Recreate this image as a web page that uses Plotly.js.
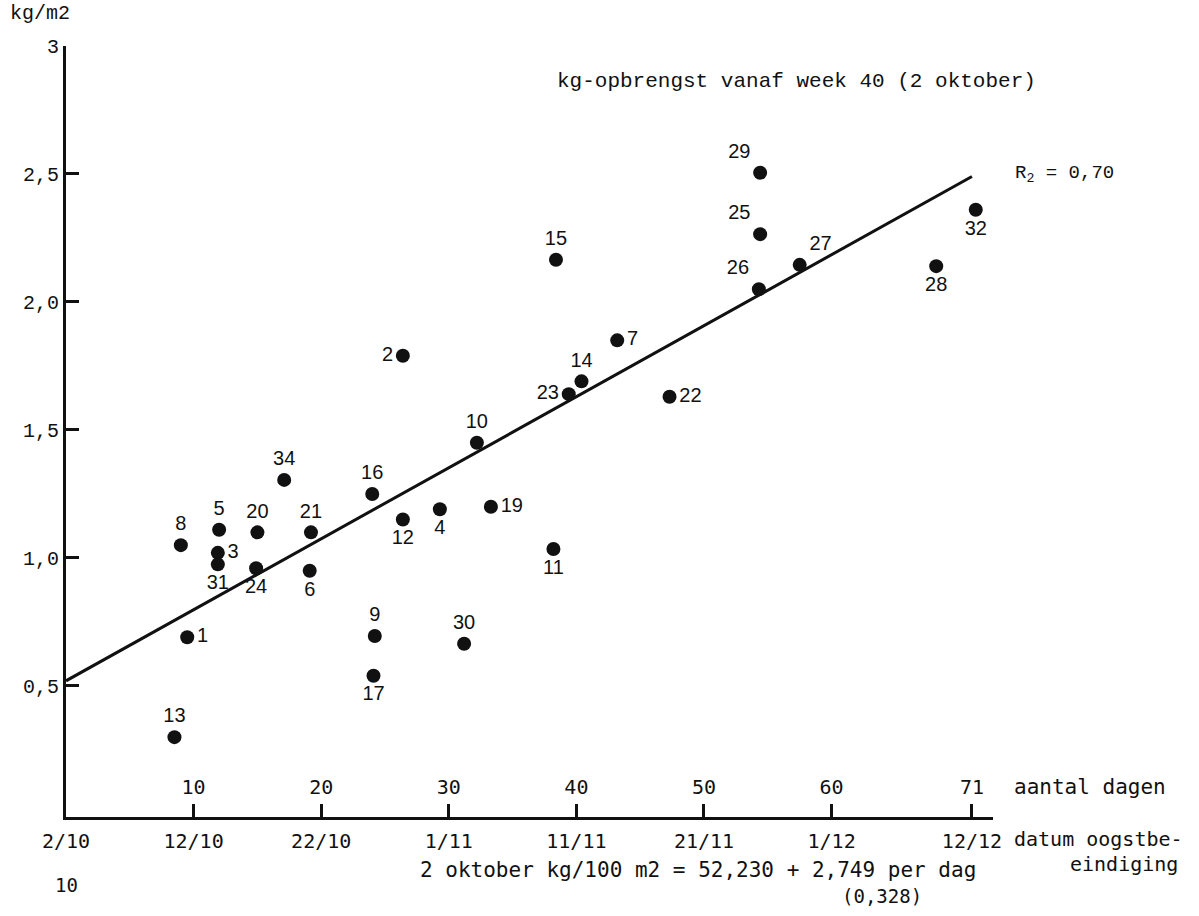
<!DOCTYPE html>
<html>
<head>
<meta charset="utf-8">
<script src="https://cdn.plot.ly/plotly-3.0.1.min.js"></script>
<style>html,body{margin:0;padding:0;background:#fff;}#chart{width:1199px;height:916px;}</style>
</head>
<body>
<div id="chart"></div>
<script>
// ---- data ----
const plotIds   = ['1','2','3','4','5','6','7','8','9','10','11','12','13','14','15','16','17','19','20','21','22','23','24','25','26','27','28','29','30','31','32','34'];
const harvestDays = [9.5, 26.4, 11.9, 29.3, 12.0, 19.1, 43.2, 9.0, 24.2, 32.2, 38.2, 26.4, 8.5, 40.4, 38.4, 24.0, 24.1, 33.3, 15.0, 19.2, 47.3, 39.4, 14.9, 54.4, 54.3, 57.5, 68.2, 54.4, 31.2, 11.9, 71.3, 17.1];
const yieldKgM2   = [0.69, 1.79, 1.02, 1.19, 1.11, 0.95, 1.85, 1.05, 0.695, 1.45, 1.035, 1.15, 0.30, 1.69, 2.165, 1.25, 0.54, 1.20, 1.10, 1.10, 1.63, 1.64, 0.96, 2.265, 2.05, 2.145, 2.14, 2.505, 0.665, 0.975, 2.36, 1.305];
const labelSide   = ['middle right','middle left','middle right','bottom center','top center','bottom center','middle right','top center','top center','top center','bottom center','bottom center','top center','top center','top center','top center','bottom center','middle right','top center','top center','middle right','middle left','bottom center','top left','top left','top right','bottom center','top left','top center','bottom center','bottom center','top center'];

const lineDays   = [0, 71];
const lineValues = [0.52, 2.49];

const dayTickVals  = [10, 20, 30, 40, 50, 60, 71];
const dayTickText  = ['10', '20', '30', '40', '50', '60', '71'];
const dateTickVals = [0, 10, 20, 30, 40, 50, 60, 71];
const dateTickText = ['2/10', '12/10', '22/10', '1/11', '11/11', '21/11', '1/12', '12/12'];
const yTickVals    = [0.5, 1.0, 1.5, 2.0, 2.5, 3.0];
const yTickText    = ['0,5', '1,0', '1,5', '2,0', '2,5', '3'];

// ---- chart ----
const INK = '#111';
const MONO = 'Liberation Mono, Courier New, monospace';
const SMONO = 'DejaVu Sans Mono, monospace';
const SANS = 'Liberation Sans, Arial, sans-serif';

const traces = [
  {
    x: lineDays, y: lineValues, mode: 'lines', type: 'scatter',
    line: {color: INK, width: 3}, hoverinfo: 'skip', showlegend: false
  },
  {
    x: harvestDays, y: yieldKgM2, text: plotIds, mode: 'markers+text', type: 'scatter',
    textposition: labelSide, textfont: {family: SANS, size: 20, color: INK},
    marker: {color: INK, size: 14}, showlegend: false
  },
  {
    x: dayTickVals, y: dayTickVals.map(() => null), xaxis: 'x2', yaxis: 'y',
    mode: 'markers', type: 'scatter', showlegend: false, hoverinfo: 'skip'
  }
];

function ann(text, px, py, opts) {
  return Object.assign({
    text: text, xref: 'paper', yref: 'paper',
    x: (px - 66) / 927, y: (817 - py) / 771,
    xanchor: 'left', yanchor: 'middle', showarrow: false,
    font: {family: SMONO, size: 20, color: INK}
  }, opts || {});
}

const layout = {
  width: 1199, height: 916,
  margin: {l: 66, r: 206, t: 46, b: 99, pad: 0},
  paper_bgcolor: '#fff', plot_bgcolor: '#fff',
  showlegend: false,
  xaxis: {
    range: [0, 72.65], showgrid: false, zeroline: false,
    showline: true, linecolor: INK, linewidth: 3,
    ticks: 'inside', ticklen: 13, tickwidth: 3, tickcolor: INK,
    tickvals: dateTickVals, ticktext: dateTickText,
    tickfont: {family: SMONO, size: 20, color: INK},
    ticklabelstandoff: 4
  },
  xaxis2: {
    range: [0, 72.65], overlaying: 'x', anchor: 'y', side: 'bottom',
    showgrid: false, zeroline: false, showline: false, ticks: '',
    tickvals: dayTickVals, ticktext: dayTickText,
    ticklabelposition: 'inside',
    tickfont: {family: SMONO, size: 20, color: INK},
    ticklabelstandoff: 16
  },
  yaxis: {
    range: [-0.012, 3.0], showgrid: false, zeroline: false,
    showline: true, linecolor: INK, linewidth: 3,
    ticks: 'inside', ticklen: 13, tickwidth: 3, tickcolor: INK,
    tickvals: yTickVals, ticktext: yTickText,
    tickfont: {family: MONO, size: 20, color: INK}
  },
  annotations: [
    ann('kg/m2', 8, 14, {font: {family: MONO, size: 20, color: INK}}),
    ann('kg-opbrengst vanaf week 40 (2 oktober)', 555, 82, {font: {family: MONO, size: 21, color: INK}}),
    ann('R<sub>2</sub> = 0,70', 1013, 174, {font: {family: MONO, size: 19, color: INK}}),
    ann('aantal dagen', 1012, 787, {font: {family: SMONO, size: 21, color: INK}}),
    ann('datum oogstbe-', 1012, 839, {font: {family: SMONO, size: 20, color: INK}}),
    ann('eindiging', 1068, 864, {font: {family: SMONO, size: 20, color: INK}}),
    ann('2 oktober kg/100 m2 = 52,230 + 2,749 per dag', 418, 870, {font: {family: SMONO, size: 21, color: INK}}),
    ann('(0,328)', 840, 896, {font: {family: SMONO, size: 19, color: INK}}),
    ann('10', 53, 885, {font: {family: SMONO, size: 19, color: INK}})
  ]
};

Plotly.newPlot('chart', traces, layout, {displayModeBar: false, staticPlot: true});
</script>
</body>
</html>
